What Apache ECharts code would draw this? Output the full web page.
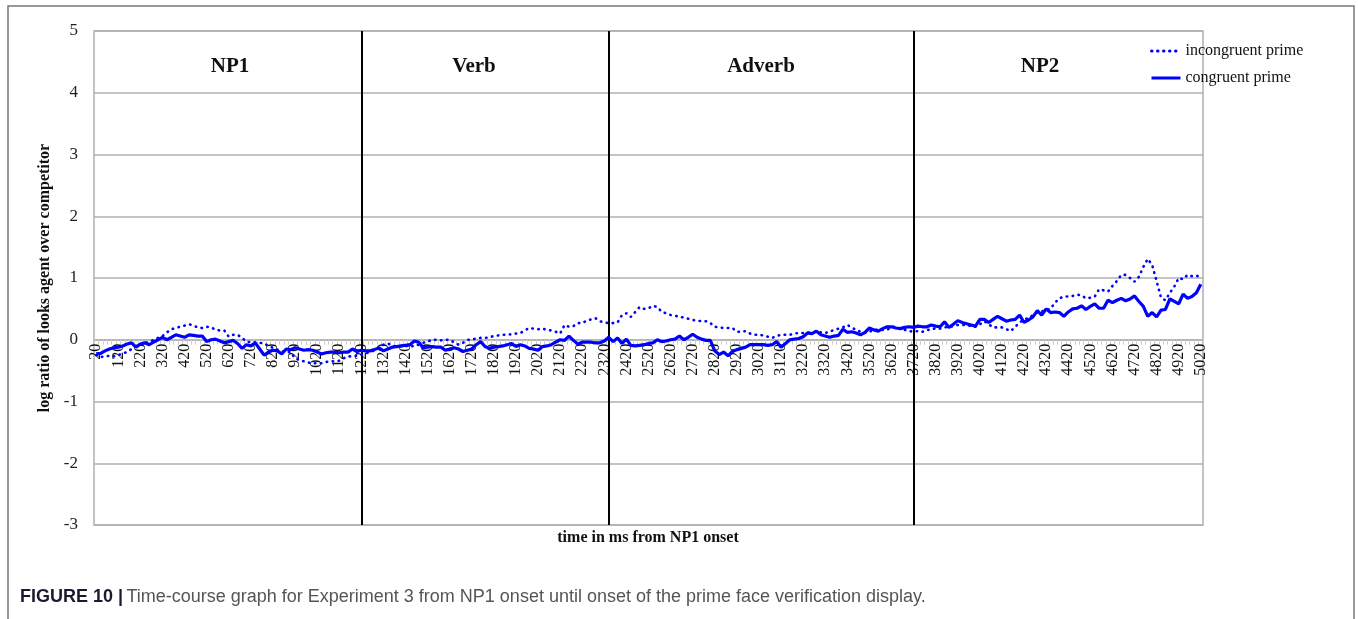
<!DOCTYPE html>
<html><head><meta charset="utf-8">
<script src="https://cdn.jsdelivr.net/npm/echarts@6/dist/echarts.min.js"></script>
<style>html,body{margin:0;padding:0;background:#fff}#c{width:1358px;height:619px}</style>
</head><body><div id="c"></div>
<script>
// time bins (ms from NP1 onset), one every 20 ms
const timeLabels = [];
for (let t = 20; t <= 5020; t += 20) timeLabels.push(String(t));

const incongruent = [
-0.25,-0.28,-0.27,-0.26,-0.27,-0.25,-0.22,-0.20,-0.15,-0.10,
-0.08,-0.05,-0.04,0.00,0.03,0.06,0.12,0.17,0.19,0.21,
0.23,0.25,0.23,0.20,0.19,0.21,0.20,0.16,0.15,0.15,
0.05,0.08,0.08,0.03,-0.03,-0.04,-0.04,-0.05,-0.06,-0.10,
-0.13,-0.16,-0.19,-0.19,-0.20,-0.30,-0.33,-0.35,-0.37,-0.38,
-0.38,-0.38,-0.36,-0.35,-0.35,-0.34,-0.30,-0.27,-0.27,-0.26,
-0.24,-0.22,-0.20,-0.17,-0.13,-0.08,-0.06,-0.10,-0.10,-0.11,
-0.10,-0.11,-0.10,-0.08,-0.05,-0.03,0.00,0.00,-0.01,0.00,
0.00,-0.04,-0.08,-0.05,0.00,0.00,0.02,0.03,0.03,0.04,
0.06,0.07,0.08,0.08,0.09,0.10,0.11,0.15,0.19,0.18,
0.17,0.18,0.16,0.15,0.13,0.10,0.24,0.21,0.22,0.27,
0.27,0.31,0.33,0.35,0.30,0.28,0.27,0.27,0.28,0.40,
0.43,0.37,0.45,0.53,0.50,0.51,0.55,0.53,0.45,0.43,
0.40,0.39,0.37,0.36,0.34,0.32,0.31,0.30,0.30,0.27,
0.21,0.20,0.19,0.19,0.19,0.13,0.13,0.14,0.10,0.08,
0.08,0.07,0.05,0.03,0.06,0.08,0.08,0.08,0.10,0.11,
0.11,0.11,0.12,0.13,0.12,0.11,0.13,0.16,0.18,0.20,
0.24,0.20,0.16,0.13,0.11,0.13,0.16,0.16,0.16,0.16,
0.21,0.21,0.18,0.16,0.14,0.13,0.14,0.13,0.16,0.16,
0.19,0.18,0.20,0.21,0.22,0.24,0.24,0.24,0.22,0.21,
0.25,0.30,0.25,0.20,0.20,0.20,0.17,0.14,0.21,0.28,
0.33,0.35,0.40,0.44,0.46,0.48,0.50,0.60,0.67,0.70,
0.70,0.71,0.73,0.72,0.67,0.68,0.70,0.82,0.80,0.78,
0.87,0.95,1.05,1.05,1.00,0.94,1.02,1.18,1.31,1.21,
0.95,0.68,0.64,0.76,0.86,1.00,0.98,1.05,1.03,1.04,
1.00
];

const congruent = [
-0.23,-0.22,-0.18,-0.15,-0.13,-0.12,-0.10,-0.07,-0.05,-0.12,
-0.07,-0.05,-0.08,-0.04,0.00,0.04,0.00,0.04,0.08,0.06,
0.04,0.08,0.07,0.06,0.06,-0.03,0.00,0.01,-0.02,-0.05,
-0.03,-0.01,-0.06,-0.14,-0.08,-0.10,-0.05,-0.15,-0.25,-0.20,
-0.17,-0.18,-0.23,-0.15,-0.16,-0.13,-0.15,-0.17,-0.16,-0.17,
-0.20,-0.23,-0.21,-0.20,-0.20,-0.21,-0.20,-0.20,-0.15,-0.19,
-0.17,-0.18,-0.18,-0.16,-0.13,-0.18,-0.15,-0.12,-0.11,-0.10,
-0.09,-0.08,-0.02,-0.04,-0.13,-0.12,-0.11,-0.12,-0.12,-0.17,
-0.15,-0.13,-0.15,-0.19,-0.17,-0.15,-0.08,-0.03,-0.11,-0.14,
-0.12,-0.11,-0.10,-0.08,-0.06,-0.11,-0.08,-0.10,-0.14,-0.15,
-0.17,-0.11,-0.10,-0.08,-0.04,0.00,-0.01,0.06,-0.01,-0.07,
-0.04,-0.04,-0.04,-0.05,-0.05,-0.02,0.04,-0.03,0.03,-0.06,
0.01,-0.09,-0.10,-0.09,-0.08,-0.06,-0.05,0.00,-0.03,-0.02,
0.00,0.01,0.06,0.00,0.04,0.09,0.04,0.01,-0.01,-0.01,
-0.18,-0.24,-0.20,-0.26,-0.19,-0.16,-0.14,-0.12,-0.08,-0.08,
-0.08,-0.08,-0.09,-0.08,-0.03,-0.12,-0.06,0.00,0.01,0.02,
0.05,0.11,0.10,0.14,0.08,0.06,0.04,0.06,0.07,0.17,
0.12,0.13,0.11,0.08,0.12,0.19,0.16,0.14,0.18,0.21,
0.21,0.19,0.18,0.20,0.21,0.20,0.22,0.21,0.21,0.24,
0.22,0.21,0.29,0.20,0.25,0.31,0.28,0.26,0.24,0.22,
0.33,0.33,0.28,0.33,0.38,0.34,0.30,0.32,0.33,0.40,
0.28,0.32,0.37,0.47,0.40,0.50,0.44,0.45,0.44,0.38,
0.45,0.50,0.51,0.55,0.49,0.54,0.58,0.51,0.51,0.64,
0.60,0.64,0.67,0.63,0.66,0.71,0.62,0.54,0.38,0.44,
0.37,0.48,0.49,0.66,0.62,0.58,0.74,0.67,0.70,0.76,
0.90
];

const regionBoundaries = ['1220', '2340', '3720'];
const regionNames = ['NP1', 'Verb', 'Adverb', 'NP2'];
const yTicks = [-3, -2, -1, 0, 1, 2, 3, 4, 5];

const SERIF = '"Liberation Serif", "Times New Roman", serif';
const SANS = '"Liberation Sans", Arial, sans-serif';
const BLUE = '#0000ff';

const chart = echarts.init(document.getElementById('c'), null, { renderer: 'canvas' });

const regionX = [230, 474, 761, 1040];
const GRID_TOP = 31, GRID_BOTTOM = 94, H = 619;
const plotH = H - GRID_TOP - GRID_BOTTOM;
// distance from the plot bottom (-3) up to the zero line
const zeroOffset = -plotH * (0 - yTicks[0]) / (yTicks[yTicks.length - 1] - yTicks[0]);

chart.setOption({
  animation: false,
  backgroundColor: '#fff',
  grid: { left: 94, right: 155, top: GRID_TOP, bottom: GRID_BOTTOM, containLabel: false,
          show: true, borderColor: '#b0b0b0', borderWidth: 1.5 },
  legend: {
    orient: 'vertical', left: 1150, top: 43, padding: 0,
    itemWidth: 29, itemHeight: 16, itemGap: 11,
    itemStyle: { opacity: 0 },
    lineStyle: { width: 3 },
    textStyle: { fontFamily: SERIF, fontSize: 16, color: '#111' },
    data: ['incongruent prime', 'congruent prime']
  },
  xAxis: {
    type: 'category', data: timeLabels, boundaryGap: true, position: 'bottom',
    offset: zeroOffset, z: 1,
    axisLine: { onZero: false, lineStyle: { color: '#b0b0b0', width: 1.5 } },
    axisTick: { show: true, interval: 0, length: 5, lineStyle: { color: '#d0d0d0' } },
    axisLabel: { interval: 4, rotate: 90, margin: 4, fontFamily: SERIF, fontSize: 16, color: '#111' },
    splitLine: { show: false }
  },
  yAxis: {
    type: 'value', min: yTicks[0], max: yTicks[yTicks.length - 1], interval: 1,
    name: 'log ratio of looks agent over competitor', nameLocation: 'middle', nameGap: 30,
    nameTextStyle: { fontFamily: SERIF, fontSize: 16, fontWeight: 'bold', color: '#111' },
    axisLine: { show: false }, axisTick: { show: false },
    axisLabel: { margin: 16, fontFamily: SERIF, fontSize: 17, color: '#222' },
    splitLine: { lineStyle: { color: '#b0b0b0', width: 1.5 } }
  },
  series: [
    { name: 'incongruent prime', type: 'line', data: incongruent, symbol: 'none',
      lineStyle: { color: BLUE, width: 2.6, type: [0.5, 5.5], cap: 'round' },
      itemStyle: { color: BLUE }, z: 5 },
    { name: 'congruent prime', type: 'line', data: congruent, symbol: 'none',
      lineStyle: { color: BLUE, width: 3.2 }, itemStyle: { color: BLUE }, z: 6,
      markLine: { silent: true, symbol: ['none', 'none'], label: { show: false },
        lineStyle: { color: '#000', width: 2, type: 'solid' },
        data: regionBoundaries.map(b => ({ xAxis: b })) } }
  ],
  graphic: [
    { type: 'rect', shape: { x: 8, y: 6, width: 1346, height: 640 },
      style: { fill: 'none', stroke: '#777', lineWidth: 1.5 }, silent: true, z: -1 },
    ...regionNames.map((n, i) => ({ type: 'text', x: regionX[i], y: 67,
      style: { text: n, fontFamily: SERIF, fontSize: 21, fontWeight: 'bold', fill: '#111',
               textAlign: 'center', textVerticalAlign: 'middle' } })),
    { type: 'text', x: 648, y: 538, style: { text: 'time in ms from NP1 onset', fontFamily: SERIF,
      fontSize: 16, fontWeight: 'bold', fill: '#111', textAlign: 'center', textVerticalAlign: 'middle' } },
    { type: 'text', x: 20, y: 597, style: {
      text: '{b|FIGURE 10 |} {n|Time-course graph for Experiment 3 from NP1 onset until onset of the prime face verification display.}',
      textVerticalAlign: 'middle',
      rich: { b: { fontFamily: SANS, fontSize: 18, fontWeight: 'bold', fill: '#1a1a2e' },
              n: { fontFamily: SANS, fontSize: 18, fill: '#555' } } } }
  ]
});
</script>
</body></html>
